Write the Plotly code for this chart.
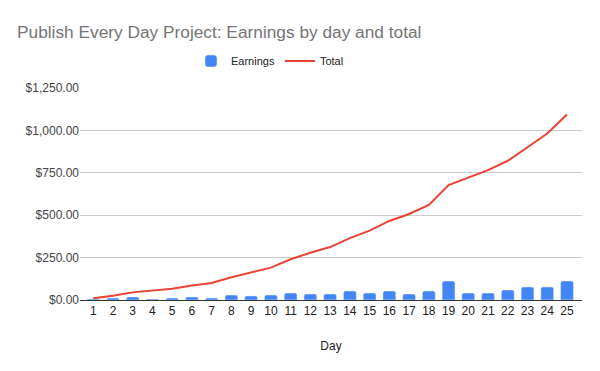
import plotly.graph_objects as go

days = list(range(1, 26))
earnings = [6, 12, 18, 6, 12, 18, 12, 29, 24, 29, 41, 35, 35, 53, 41, 53, 35, 53, 112, 41, 41, 59, 77, 77, 112]
total = [10, 25, 45, 55, 67, 86, 100, 134, 161, 191, 240, 279, 312, 365, 409, 466, 507, 560, 678, 721, 766, 821, 904, 982, 1094]
ytick_vals = [0, 250, 500, 750, 1000, 1250]
ytick_text = ["$0.00", "$250.00", "$500.00", "$750.00", "$1,000.00", "$1,250.00"]

fig = go.Figure()
fig.add_trace(go.Bar(x=days, y=earnings, name="Earnings", marker_color="#4285f4"))
fig.add_trace(go.Scatter(x=days, y=total, name="Total", mode="lines",
                         line=dict(color="#ea4335", width=2)))

fig.update_layout(
    width=600, height=371,
    margin=dict(l=80, r=18, t=88, b=71, autoexpand=False),
    paper_bgcolor="white", plot_bgcolor="white",
    font=dict(family="Liberation Sans, Arial, sans-serif", size=12, color="#222"),
    title=dict(text="Publish Every Day Project: Earnings by day and total",
               x=17 / 600, xref="container", xanchor="left",
               y=1 - 32 / 371, yref="container", yanchor="middle",
               font=dict(size=17.3, color="#757575")),
    legend=dict(orientation="h", x=270 / 600, xref="container", xanchor="center",
                y=1 - 61 / 371, yref="container", yanchor="middle",
                font=dict(size=11, color="#222")),
    bargap=0.35,
    barcornerradius=2,
    showlegend=True,
)

fig.update_xaxes(range=[0.33, 25.76], tickvals=days, ticktext=[str(d) for d in days],
                 showgrid=False, showline=True, linecolor="#333", linewidth=1,
                 ticks="", tickfont=dict(size=12, color="#222"),
                 title=dict(text="Day", font=dict(size=12, color="#222"), standoff=24))
fig.update_yaxes(range=[0, 1250], tickvals=ytick_vals, ticktext=ytick_text,
                 showgrid=True, gridcolor="#cccccc", zeroline=False,
                 tickfont=dict(size=12, color="#444"), ticks="")

fig.write_html("out.html", config={"displayModeBar": False},
               post_script="document.body.style.margin='0';")
